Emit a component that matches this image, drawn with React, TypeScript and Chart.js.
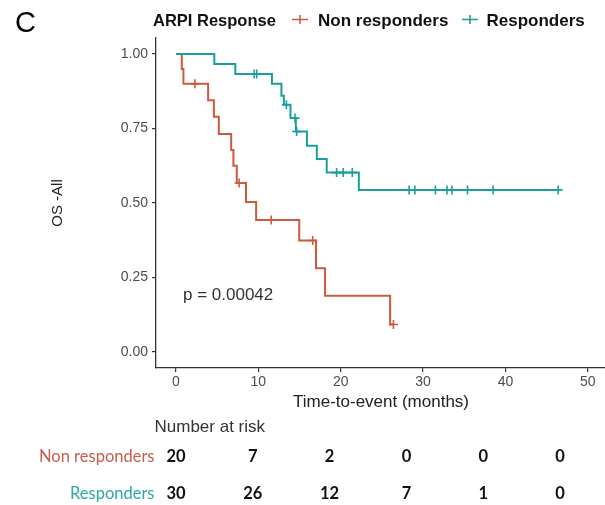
import React, { useEffect, useRef } from "react";
import { Chart, registerables } from "chart.js";

Chart.register(...registerables);

// Kaplan–Meier overall survival by ARPI response
const groupNames = ["Non responders", "Responders"];

// Non responders: event times (months) and survival after each event
const nonRespEventTimes = [0.7, 0.9, 3.9, 4.6, 5.2, 6.7, 6.97, 7.38, 8.5, 9.73, 14.96, 17.0, 18.1, 26.0];
const nonRespSurvival = [0.95, 0.9, 0.845, 0.79, 0.732, 0.678, 0.625, 0.567, 0.503, 0.443, 0.374, 0.281, 0.189, 0.092];
const nonRespCensorTimes = [2.3, 7.66, 11.56, 16.6, 26.4];

// Responders
const respEventTimes = [4.65, 7.2, 11.65, 12.8, 13.1, 13.9, 14.55, 15.9, 17.1, 18.3, 22.2];
const respSurvival = [0.967, 0.933, 0.9, 0.86, 0.83, 0.785, 0.74, 0.692, 0.648, 0.602, 0.544];
const respCensorTimes = [9.5, 9.8, 13.4, 14.45, 14.65, 19.5, 20.3, 21.4, 28.3, 29.0, 31.5, 32.9, 33.5, 35.4, 38.5, 46.4];

// Axis ticks
const xTicks = [0, 10, 20, 30, 40, 50];
const yTicks = [0, 0.25, 0.5, 0.75, 1.0];

// Number at risk table
const riskTimes = [0, 10, 20, 30, 40, 50];
const nonRespAtRisk = [20, 7, 2, 0, 0, 0];
const respAtRisk = [30, 26, 12, 7, 1, 0];

const pValueText = "p = 0.00042";

const RED = "#cc5a3c";
const TEAL = "#19a09c";
const RED_LABEL = "#c65d4a";
const TEAL_LABEL = "#2ea8a4";
const SANS = "'Liberation Sans', Arial, sans-serif";
const TABLE_FONT = "Lato, 'Open Sans', sans-serif";

function survivalAt(times: number[], surv: number[], t: number): number {
  let s = 1;
  for (let i = 0; i < times.length; i++) {
    if (times[i] <= t) s = surv[i];
  }
  return s;
}

function stepCurve(times: number[], surv: number[], endTime: number) {
  const pts = [{ x: 0, y: 1 }];
  times.forEach((t, i) => pts.push({ x: t, y: surv[i] }));
  pts.push({ x: endTime, y: survivalAt(times, surv, endTime) });
  return pts;
}

function censorPoints(times: number[], surv: number[], censors: number[]) {
  return censors.map((t) => ({ x: t, y: survivalAt(times, surv, t) }));
}

const annotations = {
  id: "kmAnnotations",
  afterDraw(chart: any) {
    const { ctx, chartArea, scales } = chart;
    const xs = scales.x;
    ctx.save();

    // Panel letter
    ctx.fillStyle = "#000";
    ctx.font = `29px ${SANS}`;
    ctx.textAlign = "left";
    ctx.textBaseline = "alphabetic";
    ctx.fillText("C", 15, 32);

    // Legend
    ctx.fillStyle = "#111";
    ctx.font = `bold 16.5px ${SANS}`;
    ctx.fillText("ARPI Response", 153, 25.5);
    const legendItems = [
      { cx: 300, tx: 318, color: RED, label: groupNames[0] },
      { cx: 470, tx: 486.5, color: TEAL, label: groupNames[1] },
    ];
    legendItems.forEach((it) => {
      ctx.strokeStyle = it.color;
      ctx.lineWidth = 1.6;
      ctx.beginPath();
      ctx.moveTo(it.cx - 8, 19.5);
      ctx.lineTo(it.cx + 8, 19.5);
      ctx.moveTo(it.cx, 15);
      ctx.lineTo(it.cx, 24);
      ctx.stroke();
      ctx.fillStyle = "#111";
      ctx.font = `bold 17px ${SANS}`;
      ctx.fillText(it.label, it.tx, 25.5);
    });

    // p-value
    ctx.fillStyle = "#333";
    ctx.font = `17px ${SANS}`;
    ctx.fillText(pValueText, 183, 300);

    // Axis titles
    ctx.fillStyle = "#222";
    ctx.font = `17px ${SANS}`;
    ctx.textAlign = "center";
    ctx.fillText("Time-to-event (months)", 381, 407);
    ctx.save();
    ctx.translate(58, 203);
    ctx.rotate(-Math.PI / 2);
    ctx.font = `15px ${SANS}`;
    ctx.textBaseline = "middle";
    ctx.fillText("OS -All", 0, 0);
    ctx.restore();

    // Number at risk table
    ctx.textAlign = "left";
    ctx.textBaseline = "alphabetic";
    ctx.fillStyle = "#333";
    ctx.font = `17px ${SANS}`;
    ctx.fillText("Number at risk", 154.5, 432);

    const col0 = xs.getPixelForValue(riskTimes[0]);
    const colStep = 76.8;
    const rows = [
      { label: groupNames[0], color: RED_LABEL, y: 457, values: nonRespAtRisk },
      { label: groupNames[1], color: TEAL_LABEL, y: 493.5, values: respAtRisk },
    ];
    rows.forEach((r) => {
      ctx.textBaseline = "middle";
      ctx.textAlign = "right";
      ctx.fillStyle = r.color;
      ctx.font = `16.5px ${TABLE_FONT}`;
      ctx.fillText(r.label, 154.5, r.y);
      ctx.textAlign = "center";
      ctx.fillStyle = "#111";
      ctx.font = `bold 16.5px ${TABLE_FONT}`;
      r.values.forEach((v, i) => {
        ctx.fillText(String(v), col0 + i * colStep, r.y);
      });
    });

    ctx.restore();
  },
};

export default function App() {
  const canvasRef = useRef<HTMLCanvasElement | null>(null);

  useEffect(() => {
    if (!canvasRef.current) return;
    const chart = new Chart(canvasRef.current, {
      type: "line",
      data: {
        datasets: [
          {
            label: groupNames[1],
            data: stepCurve(respEventTimes, respSurvival, respCensorTimes[respCensorTimes.length - 1]),
            borderColor: TEAL,
            borderWidth: 2,
            stepped: "before",
            pointRadius: 0,
            fill: false,
          },
          {
            type: "scatter",
            label: groupNames[1] + " censored",
            data: censorPoints(respEventTimes, respSurvival, respCensorTimes),
            borderColor: TEAL,
            backgroundColor: TEAL,
            pointStyle: "cross",
            pointRadius: 4.5,
            borderWidth: 1.6,
            showLine: false,
          },
          {
            label: groupNames[0],
            data: stepCurve(nonRespEventTimes, nonRespSurvival, nonRespCensorTimes[nonRespCensorTimes.length - 1]),
            borderColor: RED,
            borderWidth: 2,
            stepped: "before",
            pointRadius: 0,
            fill: false,
          },
          {
            type: "scatter",
            label: groupNames[0] + " censored",
            data: censorPoints(nonRespEventTimes, nonRespSurvival, nonRespCensorTimes),
            borderColor: RED,
            backgroundColor: RED,
            pointStyle: "cross",
            pointRadius: 4.5,
            borderWidth: 1.6,
            showLine: false,
          },
        ] as any,
      },
      options: {
        animation: false,
        responsive: false,
        devicePixelRatio: 1,
        layout: { padding: { top: 38, right: 0, left: 0, bottom: 0 } },
        plugins: {
          legend: { display: false },
          tooltip: { enabled: false },
        },
        scales: {
          x: {
            type: "linear",
            min: -2.43,
            max: 52.2,
            border: { display: true, color: "#333", width: 1.3 },
            grid: { display: true, drawOnChartArea: false, drawTicks: true, tickLength: 4, color: "#333", lineWidth: 1.2 },
            ticks: {
              color: "#4d4d4d",
              font: { family: SANS, size: 14 },
              padding: 2,
              maxRotation: 0,
              autoSkip: false,
              callback: (v: any) => String(v),
            },
            afterBuildTicks: (scale: any) => {
              scale.ticks = xTicks.map((v) => ({ value: v }));
            },
            afterFit: (scale: any) => {
              scale.height = 137;
            },
          },
          y: {
            type: "linear",
            min: -0.054,
            max: 1.054,
            border: { display: true, color: "#333", width: 1.3 },
            grid: { display: true, drawOnChartArea: false, drawTicks: true, tickLength: 4, color: "#333", lineWidth: 1.2 },
            ticks: {
              color: "#4d4d4d",
              font: { family: SANS, size: 14 },
              padding: 4,
              autoSkip: false,
              callback: (v: any) => Number(v).toFixed(2),
            },
            afterBuildTicks: (scale: any) => {
              scale.ticks = yTicks.map((v) => ({ value: v }));
            },
            afterFit: (scale: any) => {
              scale.width = 156;
            },
          },
        },
      },
      plugins: [annotations],
    });
    return () => chart.destroy();
  }, []);

  // The canvas runs a few pixels past the frame so the x axis reaches its right edge
  return (
    <div style={{ position: "fixed", left: 0, top: 0, width: 605, height: 505, overflow: "hidden", background: "#fff" }}>
      <canvas ref={canvasRef} width={612} height={505} style={{ display: "block" }} />
    </div>
  );
}
